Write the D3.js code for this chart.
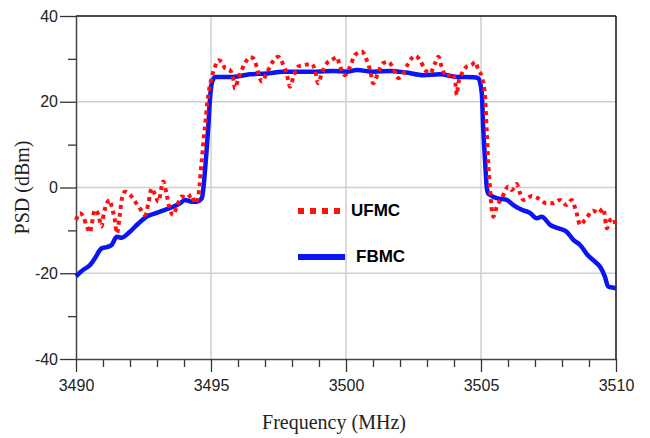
<!DOCTYPE html>
<html>
<head>
<meta charset="utf-8">
<script src="https://cdn.jsdelivr.net/npm/d3@7"></script>
<style>
  body { margin: 0; background: #fff; }
  svg { display: block; }
</style>
</head>
<body>
<div id="chart"></div>
<script>
// UFMC (red dotted)
var ufmcFreq = [3490.00, 3490.15, 3490.27, 3490.40, 3490.52, 3490.58, 3490.70, 3490.83, 3490.95, 3491.01,
  3491.14, 3491.26, 3491.32, 3491.44, 3491.51, 3491.63, 3491.69, 3491.81, 3492.00, 3492.19,
  3492.37, 3492.56, 3492.68, 3492.80, 3492.93, 3493.05, 3493.23, 3493.36, 3493.48, 3493.60,
  3493.73, 3493.91, 3494.10, 3494.29, 3494.41, 3494.53, 3494.57, 3494.63, 3494.69, 3494.74,
  3494.80, 3494.85, 3494.91, 3495.03, 3495.15, 3495.27, 3495.40, 3495.52, 3495.70, 3495.83,
  3495.89, 3496.01, 3496.14, 3496.26, 3496.44, 3496.57, 3496.69, 3496.81, 3496.88, 3497.06,
  3497.25, 3497.49, 3497.68, 3497.80, 3497.93, 3498.05, 3498.23, 3498.48, 3498.73, 3498.85,
  3498.97, 3499.10, 3499.29, 3499.47, 3499.66, 3499.78, 3499.96, 3500.15, 3500.33, 3500.58,
  3500.77, 3500.89, 3501.01, 3501.20, 3501.38, 3501.57, 3501.75, 3501.94, 3502.12, 3502.31,
  3502.56, 3502.74, 3502.93, 3503.11, 3503.30, 3503.42, 3503.54, 3503.73, 3503.91, 3504.04,
  3504.10, 3504.16, 3504.29, 3504.47, 3504.66, 3504.78, 3504.90, 3505.03, 3505.15, 3505.21,
  3505.27, 3505.33, 3505.40, 3505.46, 3505.58, 3505.77, 3506.01, 3506.14, 3506.32, 3506.44,
  3506.57, 3506.88, 3507.12, 3507.43, 3507.68, 3507.93, 3508.17, 3508.36, 3508.54, 3508.67,
  3508.85, 3509.16, 3509.34, 3509.53, 3509.66, 3509.78, 3509.90, 3510.00];
var ufmcPsd = [-7.6, -6.0, -6.8, -9.1, -10.5, -8.7, -5.2, -6.4, -9.1, -6.8,
  -3.7, -2.9, -4.5, -7.6, -10.7, -6.0, -2.9, -1.0, -1.7, -3.3,
  -4.9, -6.4, -3.7, -0.2, -1.7, -3.3, 1.4, -1.7, -5.2, -6.4,
  -4.5, -2.1, -2.5, -1.7, -3.7, -2.1, 0.2, 4.5, 8.5, 12.0,
  15.5, 19.0, 22.0, 25.8, 28.2, 29.7, 29.3, 27.8, 27.4, 25.1,
  23.1, 25.5, 27.4, 29.0, 30.4, 30.1, 28.2, 25.5, 24.7, 26.6,
  29.0, 30.5, 28.6, 26.6, 23.5, 25.8, 28.2, 28.6, 28.8, 27.4,
  24.3, 26.6, 29.0, 29.7, 30.4, 28.2, 26.2, 28.2, 30.9, 31.7,
  29.7, 27.4, 24.3, 27.0, 29.0, 29.3, 27.8, 25.5, 26.6, 29.0,
  30.7, 29.7, 27.4, 26.6, 29.0, 30.5, 28.2, 25.8, 26.6, 25.1,
  21.6, 24.3, 26.6, 28.2, 28.6, 29.3, 27.4, 25.8, 21.2, 13.4,
  5.6, 0.2, -5.2, -6.8, -4.5, -2.5, 0.2, -0.6, 0.8, -1.2,
  -2.9, -2.0, -2.5, -3.7, -3.7, -2.9, -4.1, -2.9, -6.0, -8.7,
  -7.6, -5.4, -6.0, -4.9, -9.5, -7.6, -7.2, -9.5];

// FBMC (blue solid)
var fbmcFreq = [3490.00, 3490.27, 3490.52, 3490.70, 3490.95, 3491.14, 3491.32, 3491.51, 3491.69, 3492.00,
  3492.31, 3492.62, 3492.99, 3493.30, 3493.60, 3493.85, 3494.04, 3494.29, 3494.47, 3494.66,
  3494.71, 3494.78, 3494.90, 3494.96, 3495.03, 3495.15, 3495.46, 3495.81, 3496.44, 3497.06,
  3497.67, 3498.30, 3498.91, 3499.52, 3500.03, 3500.40, 3501.01, 3501.63, 3502.25, 3502.86,
  3503.48, 3504.10, 3504.71, 3504.90, 3505.03, 3505.08, 3505.15, 3505.21, 3505.27, 3505.33,
  3505.58, 3505.95, 3506.20, 3506.51, 3506.81, 3507.06, 3507.25, 3507.56, 3507.86, 3508.17,
  3508.42, 3508.67, 3508.94, 3509.22, 3509.41, 3509.59, 3509.71, 3509.84, 3510.00];
var fbmcPsd = [-20.7, -19.2, -18.1, -16.5, -14.2, -13.9, -13.4, -11.5, -11.7, -10.3,
  -8.4, -6.8, -5.9, -5.2, -4.5, -3.7, -2.9, -3.3, -3.3, -2.5,
  -0.6, 4.1, 14.2, 20.4, 24.3, 25.8, 25.8, 25.8, 26.4, 26.6,
  27.0, 27.0, 27.0, 27.2, 27.0, 27.4, 27.0, 27.2, 26.8, 26.2,
  26.4, 25.8, 25.7, 25.5, 22.0, 14.2, 6.4, 0.2, -1.4, -1.7,
  -2.5, -2.9, -4.1, -5.2, -5.9, -7.2, -6.8, -8.7, -9.5, -10.3,
  -12.2, -13.4, -15.7, -17.3, -18.5, -20.8, -23.1, -23.3, -23.5];

var xMajor = [3490, 3495, 3500, 3505, 3510];
var yMajor = [-40, -20, 0, 20, 40];

var width = 650, height = 438;
var margin = {top: 16, right: 34, bottom: 79, left: 76};

var svg = d3.select("#chart").append("svg")
    .attr("width", width)
    .attr("height", height);

var x = d3.scaleLinear().domain([3490, 3510]).range([margin.left, width - margin.right]);
var y = d3.scaleLinear().domain([-40, 40]).range([height - margin.bottom, margin.top]);

// grid
svg.append("g").selectAll("line.vg")
  .data([3495, 3500, 3505]).enter().append("line")
    .attr("x1", d => x(d)).attr("x2", d => x(d))
    .attr("y1", y(40)).attr("y2", y(-40))
    .attr("stroke", "#cfcfcf").attr("stroke-width", 1.5);
svg.append("g").selectAll("line.hg")
  .data([-20, 0, 20]).enter().append("line")
    .attr("x1", x(3490)).attr("x2", x(3510))
    .attr("y1", d => y(d)).attr("y2", d => y(d))
    .attr("stroke", "#cfcfcf").attr("stroke-width", 1.5);

// minor ticks
var xMinor = d3.range(3490, 3511, 1).filter(d => d % 5 != 0);
var yMinor = [-30, -10, 10, 30];

svg.append("g")
  .attr("transform", "translate(0," + y(-40) + ")")
  .call(d3.axisBottom(x).tickValues(xMinor).tickSize(8).tickFormat(""))
  .call(g => g.select(".domain").remove())
  .selectAll("line").attr("stroke", "#333").attr("stroke-width", 1.3);

svg.append("g")
  .attr("transform", "translate(" + x(3490) + ",0)")
  .call(d3.axisLeft(y).tickValues(yMinor).tickSize(8).tickFormat(""))
  .call(g => g.select(".domain").remove())
  .selectAll("line").attr("stroke", "#333").attr("stroke-width", 1.3);

// major axes
var xAxis = svg.append("g")
  .attr("transform", "translate(0," + y(-40) + ")")
  .call(d3.axisBottom(x).tickValues(xMajor).tickSize(13).tickSizeOuter(0).tickPadding(8).tickFormat(d => String(d)));
xAxis.selectAll("text").style("font-family", "Arial, 'Liberation Sans', sans-serif").style("font-size", "16px").attr("fill", "#222");

var yAxis = svg.append("g")
  .attr("transform", "translate(" + x(3490) + ",0)")
  .call(d3.axisLeft(y).tickValues(yMajor).tickSize(16).tickSizeOuter(0).tickPadding(2).tickFormat(d => String(d)));
yAxis.selectAll("text").style("font-family", "Arial, 'Liberation Sans', sans-serif").style("font-size", "16px").attr("fill", "#222");

[xAxis, yAxis].forEach(function(a) {
  a.select(".domain").attr("stroke", "#444").attr("stroke-width", 1.5);
  a.selectAll(".tick line").attr("stroke", "#333").attr("stroke-width", 1.3);
});

// top and right border
svg.append("line")
  .attr("x1", x(3490)).attr("x2", x(3510)).attr("y1", y(40)).attr("y2", y(40))
  .attr("stroke", "#111").attr("stroke-width", 1.5);
svg.append("line")
  .attr("x1", x(3510)).attr("x2", x(3510)).attr("y1", y(40)).attr("y2", y(-40))
  .attr("stroke", "#111").attr("stroke-width", 1.5);

// lines
var ufmc = ufmcFreq.map((f, i) => ({f: f, v: ufmcPsd[i]}));
var fbmc = fbmcFreq.map((f, i) => ({f: f, v: fbmcPsd[i]}));

var line = d3.line()
  .x(d => x(d.f))
  .y(d => y(d.v))
  .curve(d3.curveMonotoneX);

svg.append("path")
  .datum(fbmc)
  .attr("d", line)
  .attr("fill", "none")
  .attr("stroke", "#0a14f5")
  .attr("stroke-width", 4.5)
  .attr("stroke-linejoin", "round");

svg.append("path")
  .datum(ufmc)
  .attr("d", line)
  .attr("fill", "none")
  .attr("stroke", "#ff1010")
  .attr("stroke-width", 4)
  .attr("stroke-dasharray", "4,4");

// legend
svg.append("line")
  .attr("x1", 298).attr("x2", 343).attr("y1", 211).attr("y2", 211)
  .attr("stroke", "#ff1010").attr("stroke-width", 6).attr("stroke-dasharray", "6,6");
svg.append("text")
  .attr("x", 351).attr("y", 216)
  .style("font-family", "Arial, 'Liberation Sans', sans-serif")
  .style("font-size", "17px").style("font-weight", "bold")
  .text("UFMC");
svg.append("line")
  .attr("x1", 298).attr("x2", 345).attr("y1", 257).attr("y2", 257)
  .attr("stroke", "#0a14f5").attr("stroke-width", 6);
svg.append("text")
  .attr("x", 356).attr("y", 262)
  .style("font-family", "Arial, 'Liberation Sans', sans-serif")
  .style("font-size", "17px").style("font-weight", "bold")
  .text("FBMC");

// axis titles
svg.append("text")
  .attr("x", x(3500) - 12).attr("y", 429)
  .attr("text-anchor", "middle")
  .style("font-family", "'Times New Roman', 'Liberation Serif', serif")
  .style("font-size", "20px")
  .attr("fill", "#222")
  .text("Frequency (MHz)");

svg.append("text")
  .attr("transform", "translate(29," + y(0) + ") rotate(-90)")
  .attr("text-anchor", "middle")
  .style("font-family", "'Times New Roman', 'Liberation Serif', serif")
  .style("font-size", "20px")
  .attr("fill", "#222")
  .text("PSD (dBm)");
</script>
</body>
</html>
